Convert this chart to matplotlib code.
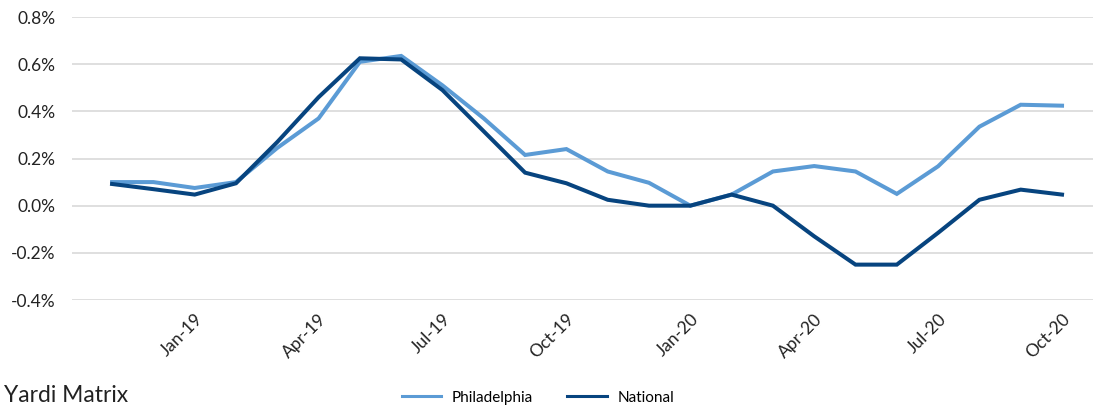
import numpy as np
import matplotlib.pyplot as plt
from matplotlib.ticker import FuncFormatter

plt.rcParams['font.family'] = ['Lato', 'DejaVu Sans']

months = ["Nov-18", "Dec-18", "Jan-19", "Feb-19", "Mar-19", "Apr-19", "May-19", "Jun-19",
          "Jul-19", "Aug-19", "Sep-19", "Oct-19", "Nov-19", "Dec-19", "Jan-20", "Feb-20",
          "Mar-20", "Apr-20", "May-20", "Jun-20", "Jul-20", "Aug-20", "Sep-20", "Oct-20"]
philadelphia = [0.10, 0.10, 0.075, 0.10, 0.245, 0.37, 0.61, 0.635, 0.51, 0.37, 0.215, 0.24,
                0.145, 0.097, 0.0, 0.047, 0.145, 0.168, 0.145, 0.05, 0.167, 0.335, 0.428, 0.424]
national = [0.092, 0.07, 0.047, 0.095, 0.27, 0.46, 0.625, 0.62, 0.49, 0.315, 0.14, 0.095,
            0.025, 0.0, 0.0, 0.047, 0.0, -0.13, -0.25, -0.25, -0.115, 0.025, 0.068, 0.047]
tick_months = ["Jan-19", "Apr-19", "Jul-19", "Oct-19", "Jan-20", "Apr-20", "Jul-20", "Oct-20"]

fig = plt.figure(figsize=(10.93, 4.08), dpi=100)
ax = fig.add_axes([0.0659, 0.2647, 0.9341, 0.6936])

x = np.arange(len(months))
ax.plot(x, philadelphia, color="#5b9bd5", lw=2.9, label="Philadelphia", solid_joinstyle="miter")
ax.plot(x, national, color="#07447f", lw=2.9, label="National", solid_joinstyle="miter")

ax.set_ylim(-0.4, 0.8)
ax.set_yticks(np.arange(-0.4, 0.81, 0.2))
ax.yaxis.set_major_formatter(FuncFormatter(lambda v, p: f"{v:.1f}%"))
ax.set_xlim(-0.97, 23.75)
ax.set_xticks([months.index(m) for m in tick_months])
ax.set_xticklabels(tick_months, rotation=45, ha="right", rotation_mode="anchor", fontsize=13)

ax.grid(axis="y", color="#d9d9d9", lw=1.2)
ax.set_axisbelow(True)
for s in ax.spines.values():
    s.set_visible(False)
ax.tick_params(length=0, labelsize=12.5, colors="#222222")
ax.tick_params(axis="y", pad=12)
ax.tick_params(axis="x", pad=8)

leg = fig.legend(loc="center", bbox_to_anchor=(0.492, 0.025), ncol=2, frameon=False,
                 fontsize=11, handlelength=2.6, columnspacing=2.2, handletextpad=0.7)
for h in leg.get_lines():
    h.set_linewidth(2.2)
fig.text(0.004, 0.014, "Yardi Matrix", fontsize=16.5, va="baseline", ha="left", color="#222222")

fig.savefig("out.png", dpi=100)
